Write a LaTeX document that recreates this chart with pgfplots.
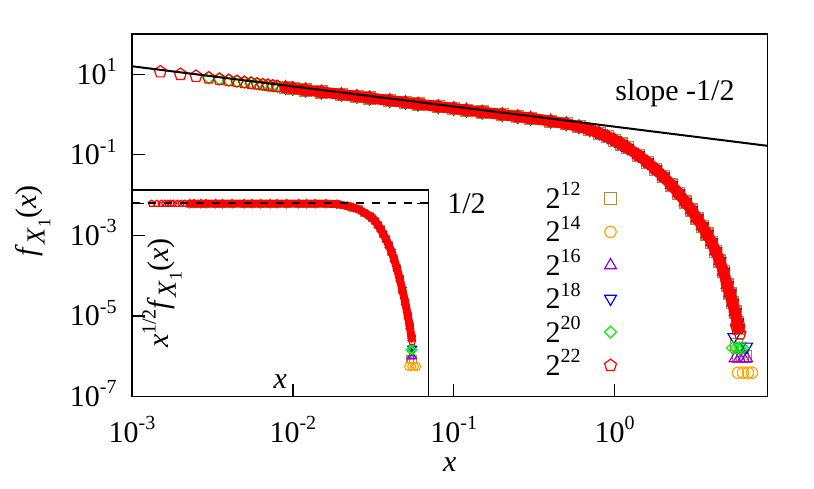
\documentclass[border=0pt]{standalone}
\usepackage{fontspec}
\setmainfont{Liberation Serif}
\usepackage{pgfplots}
\pgfplotsset{compat=1.18}
\usepackage{pgfplotstable}

\newcommand{\sups}[1]{\raisebox{0.42em}{\fontsize{10}{10}\selectfont #1}}
\newcommand{\fX}{\textit{f}\raisebox{-0.26em}{\fontsize{13}{13}\selectfont\textit{X}\raisebox{-0.22em}{\fontsize{9}{9}\selectfont 1}}(\textit{x})}

\definecolor{c12}{RGB}{176,136,56}
\definecolor{c14}{RGB}{255,165,0}
\definecolor{c16}{RGB}{148,0,211}
\definecolor{c18}{RGB}{0,0,255}
\definecolor{c20}{RGB}{0,240,0}
\definecolor{c22}{RGB}{255,0,0}

% main panel f(x): sparse start (two parts) and dense part
\pgfplotstableread{
x f
0.0015 11.53
0.002 9.989
0.0025 8.934
}\mainA
\pgfplotstableread{
x f
0.003 8.156
0.0035 7.551
0.004 7.063
0.0045 6.659
0.005 6.317
0.0055 6.023
0.006 5.767
0.0065 5.541
0.007 5.339
0.0075 5.158
0.008 4.994
}\mainB
\pgfplotstableread{
x f
0.009 4.709
0.01 4.467
0.012 4.078
0.015 3.647
0.02 3.159
0.025 2.825
0.03 2.579
0.04 2.234
0.05 1.998
0.06 1.824
0.08 1.579
0.1 1.413
0.12 1.290
0.15 1.153
0.2 0.9989
0.25 0.8913
0.3 0.8117
0.4 0.6870
0.5 0.5896
0.6 0.5022
0.7 0.4193
0.8 0.3455
0.9 0.2837
1.0 0.2291
1.1 0.1859
1.2 0.1498
1.4 0.09813
1.6 0.06500
1.8 0.04339
2.0 0.02914
2.25 0.01784
2.5 0.01099
2.75 0.006766
3.0 0.004280
3.25 0.002655
3.5 0.001690
3.75 0.001079
4.0 0.0006745
4.25 0.0004035
4.5 0.0002309
4.75 0.0001264
5.0 5.894e-5
5.2 3.648e-5
5.4 2.157e-5
5.6 1.247e-5
5.8 6.893e-6
5.9 4.949e-6
}\mainC

\pgfplotstableread{
x f
5.7 2.0e-6
5.85 1.0e-6
6.2 1.0e-6
6.5 1.0e-6
}\mtA
\pgfplotstableread{
x f
5.83 3.9e-7
6.27 3.9e-7
6.73 3.9e-7
7.13 3.9e-7
}\mtB
\pgfplotstableread{
x f
5.6 8.9e-7
5.95 8.9e-7
6.3 8.9e-7
6.6 8.9e-7
}\mtC
\pgfplotstableread{
x f
5.5 3.0e-6
6.0 1.74e-6
6.6 1.74e-6
}\mtD
\pgfplotstableread{
x f
5.4 1.6e-6
5.7 1.6e-6
6.0 1.6e-6
6.25 1.6e-6
}\mtE
\pgfplotstableread{
x f
5.7 5.5e-6
6.0 3.6e-6
}\mtF

% inset x^(1/2) f(x): sparse start and dense part
\pgfplotstableread{
x g
1e-4 0.49
1.25e-4 0.49
1.5e-4 0.49
1.75e-4 0.49
2e-4 0.49
2.25e-4 0.49
2.5e-4 0.49
3e-4 0.49
3.5e-4 0.49
4e-4 0.49
}\insA
\pgfplotstableread{
x g
5e-4 0.49
6e-4 0.49
8e-4 0.49
1e-3 0.49
1.5e-3 0.49
2e-3 0.49
3e-3 0.49
5e-3 0.49
7e-3 0.49
0.01 0.49
0.015 0.49
0.02 0.49
0.03 0.49
0.05 0.49
0.07 0.49
0.1 0.49
0.1585 0.4898
0.2512 0.4677
0.3981 0.3981
0.5012 0.3548
0.6310 0.3020
0.7943 0.2344
1.0 0.1778
1.122 0.1445
1.259 0.1175
1.413 0.08511
1.585 0.06026
1.778 0.04074
1.995 0.02630
2.239 0.01622
2.512 0.009550
2.818 0.005012
3.162 0.002399
3.548 0.001047
3.981 4.169e-4
4.467 1.514e-4
5.012 5.012e-5
5.433 2.089e-5
5.888 7.943e-6
}\insB

\pgfplotstableread{
x g
5.6 1.45e-6
6.2 1.45e-6
}\itA
\pgfplotstableread{
x g
5.2 7.8e-7
5.9 7.8e-7
6.6 7.8e-7
7.3 7.8e-7
}\itB
\pgfplotstableread{
x g
5.7 1.74e-6
6.2 1.74e-6
}\itC
\pgfplotstableread{
x g
5.8 3.5e-6
6.3 3.5e-6
}\itD
\pgfplotstableread{
x g
5.6 3.0e-6
6.1 3.0e-6
}\itE
\pgfplotstableread{
x g
6.0 6.0e-6
}\itF

\pgfplotsset{
  s12/.style={only marks, mark=square, color=c12, mark size=#1, mark options={line width=0.6pt}},
  s14/.style={only marks, mark=o, color=c14, mark size=#1, mark options={line width=0.6pt}},
  s16/.style={only marks, mark=triangle, color=c16, mark size=#1, mark options={line width=0.6pt}},
  s18/.style={only marks, mark=triangle, color=c18, mark size=#1, mark options={rotate=180, line width=0.6pt}},
  s20/.style={only marks, mark=square, color=c20, mark size=#1, mark options={rotate=45, line width=0.6pt}},
  s22/.style={only marks, mark=pentagon, color=c22, mark size=#1, mark options={line width=0.6pt}},
}

\begin{document}
\begin{tikzpicture}[font=\fontsize{15}{18}\selectfont]
\path[use as bounding box] (-66pt,-45.75pt) rectangle (341pt,198.25pt);

\begin{axis}[
  at={(0pt,0pt)}, anchor=south west,
  scale only axis, width=317.75pt, height=181.25pt,
  clip mode=individual,
  xmode=log, ymode=log,
  xmin=1e-3, xmax=8.9, ymin=1e-7, ymax=1e2,
  axis line style={line width=0.65pt},
  every tick/.style={black, line width=0.65pt},
  major tick length=6.5pt,
  tick align=inside,
  xtick pos=bottom, ytick pos=left,
  xminorticks=false, yminorticks=false,
  xtick={1e-3,1e-2,1e-1,1},
  xticklabels={10\sups{-3},10\sups{-2},10\sups{-1},10\sups{0}},
  ytick={1e-7,1e-5,1e-3,1e-1,1e1},
  yticklabels={10\sups{-7},10\sups{-5},10\sups{-3},10\sups{-1},10\sups{1}},
  tick label style={font=\fontsize{15}{18}\selectfont},
  xticklabel style={anchor=base, inner sep=0pt, yshift=-22.75pt},
  yticklabel style={anchor=base east, inner sep=0pt, xshift=-7.5pt, yshift=-5pt},
  legend style={draw=none, fill=none, font=\fontsize{15}{18}\selectfont,
    at={(rel axis cs:0.7725,0.5915)}, anchor=north east,
    nodes={inner sep=0pt, text height=11pt, text depth=1pt},
    row sep=4.7pt, column sep=12pt},
  legend cell align=right,
  legend plot pos=right,
  legend image code/.code={\draw[#1] plot coordinates {(0pt,0pt)};},
]
\addplot[s12=3pt, forget plot] table[x=x, y=f] {\mainC};
\addplot[s12=3pt, forget plot] table[x=x, y=f] {\mtA};
\addplot[s14=2.85pt, forget plot] table[x=x, y=f] {\mainC};
\addplot[s14=2.85pt, forget plot] table[x=x, y=f] {\mtB};
\addplot[s16=3.4pt, forget plot] table[x=x, y=f] {\mainC};
\addplot[s16=3.4pt, forget plot] table[x=x, y=f] {\mtC};
\addplot[s18=3.4pt, forget plot] table[x=x, y=f] {\mainC};
\addplot[s18=3.4pt, forget plot] table[x=x, y=f] {\mtD};
\addplot[s20=2.1pt, forget plot] table[x=x, y=f] {\mainB};
\addplot[s20=2.1pt, forget plot] table[x=x, y=f] {\mainC};
\addplot[s20=2.1pt, forget plot] table[x=x, y=f] {\mtE};
% dense red markers merge into a solid band
\addplot[c22, line width=5.5pt, line join=round, line cap=round, forget plot] table[x=x, y=f] {\mainC};
\addplot[s22=3.15pt, forget plot] table[x=x, y=f] {\mainA};
\addplot[s22=3.15pt, forget plot] table[x=x, y=f] {\mainB};
\addplot[s22=3.15pt, forget plot] table[x=x, y=f] {\mainC};
\addplot[s22=3.15pt, forget plot] table[x=x, y=f] {\mtF};
% reference line 0.5 x^{-1/2}
\addplot[black, line width=1pt, forget plot] coordinates {(1e-3,15.81) (8.9,0.1676)};

\addlegendimage{s12=3pt}\addlegendentry{2\sups{12}}
\addlegendimage{s14=2.85pt}\addlegendentry{2\sups{14}}
\addlegendimage{s16=3.4pt}\addlegendentry{2\sups{16}}
\addlegendimage{s18=3.4pt}\addlegendentry{2\sups{18}}
\addlegendimage{s20=2.1pt}\addlegendentry{2\sups{20}}
\addlegendimage{s22=3.15pt}\addlegendentry{2\sups{22}}

\node[rotate=90] at (rel axis cs:-0.1558,0.484) {\fX};
\node at (rel axis cs:0.5,-0.189) {\textit{x}};
\node[anchor=west, inner sep=0pt] at (rel axis cs:0.760,0.837) {slope -1/2};
\end{axis}

\begin{axis}[
  at={(0pt,0pt)}, anchor=south west,
  scale only axis, width=148.35pt, height=103.25pt,
  clip mode=individual,
  xmode=log, ymode=log,
  xmin=4.37e-5, xmax=12.1, ymin=6.65e-8, ymax=1.49,
  axis line style={line width=0.65pt},
  every tick/.style={black, line width=0.65pt},
  major tick length=6pt,
  tick align=inside,
  xtick=\empty,
  ytick={0.5}, yticklabels={1/2},
  ytick pos=both, yticklabel pos=right,
  xminorticks=false, yminorticks=false,
  tick label style={font=\fontsize{15}{18}\selectfont},
  yticklabel style={anchor=west, inner sep=0pt, xshift=9.15pt},
]
\addplot[s12=1.7pt] table[x=x, y=g] {\insB};
\addplot[s12=1.7pt] table[x=x, y=g] {\itA};
\addplot[s14=1.7pt] table[x=x, y=g] {\insB};
\addplot[s14=2pt] table[x=x, y=g] {\itB};
\addplot[s16=2pt] table[x=x, y=g] {\insB};
\addplot[s16=2pt] table[x=x, y=g] {\itC};
\addplot[s18=2pt] table[x=x, y=g] {\insB};
\addplot[s18=2pt] table[x=x, y=g] {\itD};
\addplot[s20=1.3pt] table[x=x, y=g] {\insB};
\addplot[s20=1.5pt] table[x=x, y=g] {\itE};
\addplot[c22, line width=4pt, line join=round, line cap=round] table[x=x, y=g] {\insB};
\addplot[s22=1.7pt] table[x=x, y=g] {\insA};
\addplot[s22=1.7pt] table[x=x, y=g] {\insB};
\addplot[s22=1.8pt] table[x=x, y=g] {\itF};
\addplot[black, line width=1pt, dash pattern=on 4pt off 4pt] coordinates {(4.37e-5,0.5) (12.1,0.5)};

\node[rotate=90] at (rel axis cs:0.101,0.501) {\textit{x}\sups{1/2}\fX};
\node at (rel axis cs:0.5,0.072) {\textit{x}};
\end{axis}
\end{tikzpicture}
\end{document}
